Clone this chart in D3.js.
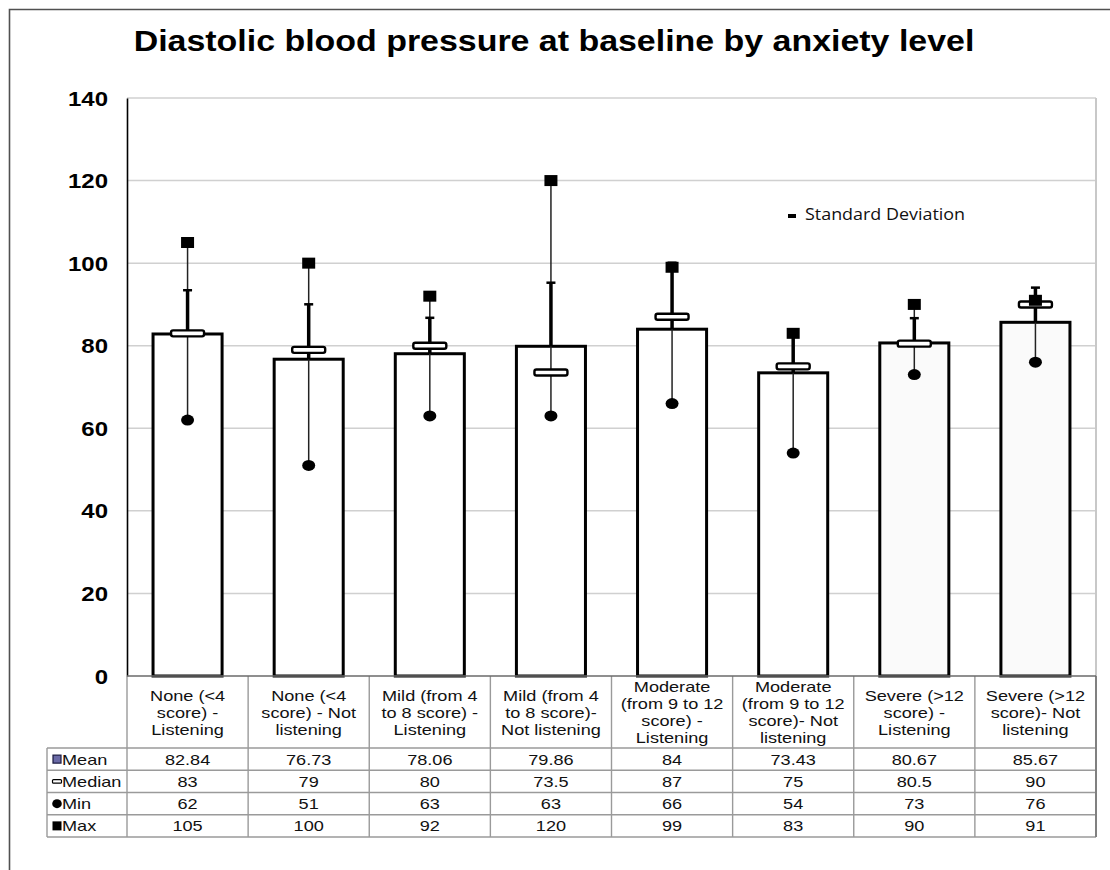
<!DOCTYPE html>
<html>
<head>
<meta charset="utf-8">
<script src="https://cdn.jsdelivr.net/npm/d3@7"></script>
<style>
  html, body { margin: 0; padding: 0; background: #fff; }
  svg { display: block; }
</style>
</head>
<body>
<svg id="chart" width="1110" height="870"></svg>
<script>
const categories = [
  ['None (<4', 'score) -', 'Listening'],
  ['None (<4', 'score) - Not', 'listening'],
  ['Mild (from 4', 'to 8 score)  -', 'Listening'],
  ['Mild (from 4', 'to 8 score)-', 'Not listening'],
  ['Moderate', '(from 9 to 12', 'score)  -', 'Listening'],
  ['Moderate', '(from 9 to 12', 'score)- Not', 'listening'],
  ['Severe (>12', 'score)  -', 'Listening'],
  ['Severe (>12', 'score)- Not', 'listening']
];
const means = [82.84, 76.73, 78.06, 79.86, 84, 73.43, 80.67, 85.67];
const medians = [83, 79, 80, 73.5, 87, 75, 80.5, 90];
const mins = [62, 51, 63, 63, 66, 54, 73, 76];
const maxs = [105, 100, 92, 120, 99, 83, 90, 91];
// standard deviations
const sds = [10.6, 13.3, 8.7, 15.4, 16.1, 9.4, 6.0, 8.4];
const meanLabels = ['82.84', '76.73', '78.06', '79.86', '84', '73.43', '80.67', '85.67'];
const yTicks = [0, 20, 40, 60, 80, 100, 120, 140];

const SX = 1.25; // the original is a bit wide, stretch texts to match
const svg = d3.select('#chart');

const plot = { left: 127, right: 1096, top: 98, bottom: 676 };
const table = { legendLeft: 47, headBottom: 748, rowH: 22.25 };
const tableFont = 14.5;

const idx = d3.range(categories.length);
const x = d3.scaleBand()
  .domain(idx)
  .range([plot.left, plot.right])
  .paddingInner(0.43)
  .paddingOuter(0.215);
const col = d3.scaleBand().domain(idx).range([plot.left, plot.right]).padding(0);
const y = d3.scaleLinear().domain([0, 140]).range([plot.bottom, plot.top]);
const cx = i => x(i) + x.bandwidth() / 2;

function place(sel, px, py, sx = SX) {
  return sel.attr('transform', `translate(${px},${py}) scale(${sx},1)`);
}

// outer frame
svg.append('path')
  .attr('d', 'M9.5,870 V9.5 H1110')
  .attr('fill', 'none')
  .attr('stroke', '#505050')
  .attr('stroke-width', 1.6);

// title
place(svg.append('text'), 554, 51, 1.17)
  .attr('text-anchor', 'middle')
  .attr('font-family', 'Liberation Sans, Arial, sans-serif')
  .attr('font-weight', 'bold')
  .attr('font-size', 29)
  .text('Diastolic blood pressure at baseline by anxiety level');

// gridlines
svg.append('g')
  .selectAll('line')
  .data(yTicks.filter(d => d > 0))
  .join('line')
  .attr('x1', plot.left).attr('x2', plot.right)
  .attr('y1', d => y(d)).attr('y2', d => y(d))
  .attr('stroke', '#d0d0d0')
  .attr('stroke-width', 1.5);

// plot right border
svg.append('line')
  .attr('x1', plot.right).attr('x2', plot.right)
  .attr('y1', plot.top).attr('y2', plot.bottom)
  .attr('stroke', '#c8c8c8').attr('stroke-width', 2);

// y axis
const yAxis = svg.append('g')
  .attr('transform', `translate(${plot.left},0)`)
  .call(d3.axisLeft(y).tickValues(yTicks).tickSize(0).tickPadding(20));
yAxis.select('.domain').attr('stroke', '#000').attr('stroke-width', 1.6);
yAxis.selectAll('.tick text').each(function(d) {
  const t = d3.select(this);
  t.attr('x', null).attr('dy', null);
  place(t, -19, 7, 1.2)
    .attr('font-family', 'Liberation Sans, Arial, sans-serif')
    .attr('font-weight', 'bold')
    .attr('font-size', 20)
    .attr('fill', '#000');
});

// bars
svg.append('g')
  .selectAll('rect')
  .data(idx)
  .join('rect')
  .attr('x', i => x(i))
  .attr('y', i => y(means[i]))
  .attr('width', x.bandwidth())
  .attr('height', i => y(0) - y(means[i]))
  .attr('fill', i => i >= 6 ? '#fafafa' : '#fff')
  .attr('stroke', '#000')
  .attr('stroke-width', 3);

const marks = svg.append('g');

// min-max whisker
marks.selectAll('.range')
  .data(idx)
  .join('line')
  .attr('class', 'range')
  .attr('x1', cx).attr('x2', cx)
  .attr('y1', i => y(mins[i])).attr('y2', i => y(maxs[i]))
  .attr('stroke', '#222')
  .attr('stroke-width', 1.5);

// standard deviation bar
marks.selectAll('.sd')
  .data(idx)
  .join('line')
  .attr('class', 'sd')
  .attr('x1', cx).attr('x2', cx)
  .attr('y1', i => y(means[i])).attr('y2', i => y(means[i] + sds[i]))
  .attr('stroke', '#000')
  .attr('stroke-width', 3.5);

marks.selectAll('.cap')
  .data(idx)
  .join('line')
  .attr('class', 'cap')
  .attr('x1', i => cx(i) - 4.5).attr('x2', i => cx(i) + 4.5)
  .attr('y1', i => y(means[i] + sds[i])).attr('y2', i => y(means[i] + sds[i]))
  .attr('stroke', '#000')
  .attr('stroke-width', 2.5);

// median markers
marks.selectAll('.median')
  .data(idx)
  .join('rect')
  .attr('class', 'median')
  .attr('x', i => cx(i) - 16.5)
  .attr('y', i => y(medians[i]) - 3)
  .attr('width', 33)
  .attr('height', 6)
  .attr('rx', 2)
  .attr('fill', '#fff')
  .attr('stroke', '#000')
  .attr('stroke-width', 2.4);

// max markers
marks.selectAll('.max')
  .data(idx)
  .join('rect')
  .attr('class', 'max')
  .attr('x', i => cx(i) - 6.5)
  .attr('y', i => y(maxs[i]) - 5.5)
  .attr('width', 13)
  .attr('height', 11)
  .attr('fill', '#000');

// min markers
marks.selectAll('.min')
  .data(idx)
  .join('ellipse')
  .attr('class', 'min')
  .attr('cx', cx)
  .attr('cy', i => y(mins[i]))
  .attr('rx', 6.5)
  .attr('ry', 5.5)
  .attr('fill', '#000');

// legend
svg.append('rect')
  .attr('x', 788).attr('y', 214)
  .attr('width', 8).attr('height', 4)
  .attr('fill', '#000');
place(svg.append('text'), 805, 219.5, 1.12)
  .attr('font-family', 'Open Sans, sans-serif')
  .attr('font-size', 16)
  .attr('fill', '#111')
  .text('Standard Deviation');

// data table
const tbl = svg.append('g');
const gridColor = '#9a9a9a';
const rows = [
  { name: 'Mean', vals: meanLabels },
  { name: 'Median', vals: medians.map(String) },
  { name: 'Min', vals: mins.map(String) },
  { name: 'Max', vals: maxs.map(String) }
];
const rowTop = r => table.headBottom + r * table.rowH;
const tableBottom = rowTop(rows.length);

// horizontal rules
tbl.selectAll('.hrule')
  .data(d3.range(rows.length + 1))
  .join('line')
  .attr('class', 'hrule')
  .attr('x1', table.legendLeft).attr('x2', plot.right)
  .attr('y1', r => rowTop(r)).attr('y2', r => rowTop(r))
  .attr('stroke', gridColor).attr('stroke-width', 1.4);

// vertical rules
tbl.selectAll('.vrule')
  .data(d3.range(categories.length + 1))
  .join('line')
  .attr('class', 'vrule')
  .attr('x1', i => plot.left + i * col.step()).attr('x2', i => plot.left + i * col.step())
  .attr('y1', plot.bottom).attr('y2', tableBottom)
  .attr('stroke', (d, i) => i === categories.length ? '#808080' : gridColor)
  .attr('stroke-width', (d, i) => i === categories.length ? 2 : 1.4);

tbl.append('line')
  .attr('x1', table.legendLeft).attr('x2', table.legendLeft)
  .attr('y1', table.headBottom).attr('y2', tableBottom)
  .attr('stroke', gridColor).attr('stroke-width', 1.4);

// base line of the plot
svg.append('line')
  .attr('x1', plot.left).attr('x2', plot.right)
  .attr('y1', plot.bottom).attr('y2', plot.bottom)
  .attr('stroke', '#6a6a6a').attr('stroke-width', 1.6);

// category headers
const headMid = (plot.bottom + table.headBottom) / 2;
idx.forEach(i => {
  const lines = categories[i];
  lines.forEach((ln, k) => {
    place(tbl.append('text'), col(i) + col.bandwidth() / 2,
      headMid + (k - (lines.length - 1) / 2) * 17 + 5.5)
      .attr('text-anchor', 'middle')
      .attr('font-family', 'Liberation Sans, Arial, sans-serif')
      .attr('font-size', tableFont)
      .attr('fill', '#111')
      .text(ln);
  });
});

// values
rows.forEach((row, r) => {
  const mid = rowTop(r) + table.rowH / 2;
  row.vals.forEach((v, i) => {
    place(tbl.append('text'), col(i) + col.bandwidth() / 2, mid + 5.5)
      .attr('text-anchor', 'middle')
      .attr('font-family', 'Liberation Sans, Arial, sans-serif')
      .attr('font-size', tableFont)
      .attr('fill', '#111')
      .text(v);
  });
  place(tbl.append('text'), 62, mid + 5.5)
    .attr('font-family', 'Liberation Sans, Arial, sans-serif')
    .attr('font-size', tableFont)
    .attr('fill', '#111')
    .text(row.name);
});

// legend keys in the table
const keyX = 57;
const keyMid = r => rowTop(r) + table.rowH / 2;
tbl.append('rect')
  .attr('x', keyX - 4).attr('y', keyMid(0) - 4)
  .attr('width', 8).attr('height', 8)
  .attr('fill', '#6a6aa6').attr('stroke', '#1a1a40').attr('stroke-width', 1.2);
tbl.append('rect')
  .attr('x', keyX - 4.5).attr('y', keyMid(1) - 1.8)
  .attr('width', 9).attr('height', 3.6).attr('rx', 1)
  .attr('fill', '#fff').attr('stroke', '#000').attr('stroke-width', 1.2);
tbl.append('ellipse')
  .attr('cx', keyX).attr('cy', keyMid(2))
  .attr('rx', 4.8).attr('ry', 4.5)
  .attr('fill', '#000');
tbl.append('rect')
  .attr('x', keyX - 4.5).attr('y', keyMid(3) - 4.5)
  .attr('width', 9).attr('height', 9)
  .attr('fill', '#000');
</script>
</body>
</html>
